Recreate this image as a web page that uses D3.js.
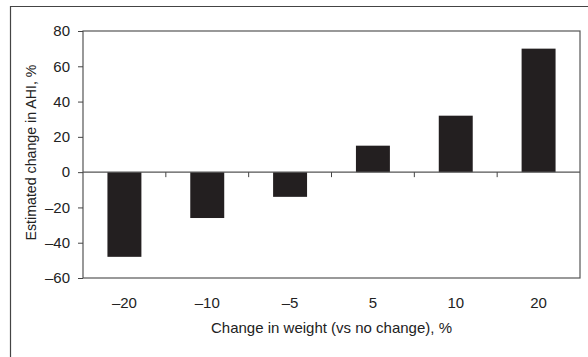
<!DOCTYPE html>
<html><head><meta charset="utf-8">
<script src="https://cdn.jsdelivr.net/npm/d3@7"></script>
<style>body{margin:0;background:#fff}svg{display:block}text{font-family:"Liberation Sans",Arial,sans-serif;fill:#222}</style>
</head><body>
<script>
const categories = ["\u201320", "\u201310", "\u20135", "5", "10", "20"];
const values = [-48, -26, -14, 15, 32, 70];
const yTicks = [-60, -40, -20, 0, 20, 40, 60, 80];
const yTickLabels = ["\u201360", "\u201340", "\u201320", "0", "20", "40", "60", "80"];
const xTitle = "Change in weight (vs no change), %";
const yTitle = "Estimated change in AHI, %";

const W = 588, H = 357;
const m = {left: 83, right: 8, top: 31, bottom: 79};
const FS = 15;
const svg = d3.select("body").append("svg").attr("width", W).attr("height", H);

// outer frame
svg.append("path").attr("d", `M10.5,${H} V6.5 H${W}`).attr("fill","none").attr("stroke","#444").attr("stroke-width",1.2);

const x = d3.scaleBand().domain(categories).range([m.left, W - m.right]).paddingInner(0.59).paddingOuter(0.295);
const y = d3.scaleLinear().domain([-60, 80]).range([H - m.bottom, m.top]);

const g = svg.append("g");
// plot box
g.append("rect").attr("x", m.left).attr("y", y(80)).attr("width", (W - m.right) - m.left).attr("height", y(-60) - y(80))
  .attr("fill","none").attr("stroke","#555").attr("stroke-width",1.2);

// bars
g.selectAll("rect.bar").data(values).join("rect").attr("class","bar")
  .attr("x", (d,i) => x(categories[i])).attr("width", x.bandwidth())
  .attr("y", d => y(Math.max(0,d))).attr("height", d => Math.abs(y(d) - y(0)))
  .attr("fill","#231f20");

// y axis
const yAxis = d3.axisLeft(y).tickValues(yTicks).tickSize(5).tickPadding(8)
  .tickFormat((d,i) => yTickLabels[i]);
const ya = g.append("g").attr("transform", `translate(${m.left},0)`).call(yAxis);
ya.select(".domain").remove();
ya.selectAll("line").attr("stroke","#444");
ya.selectAll("text").attr("font-size", FS).attr("fill","#222").attr("font-family", '"Liberation Sans",Arial,sans-serif');

// zero line with boundary ticks
g.append("line").attr("x1", m.left).attr("x2", W - m.right).attr("y1", y(0)).attr("y2", y(0)).attr("stroke","#555").attr("stroke-width",1.2);
const step = x.step();
g.selectAll("line.xt").data(categories.slice(1)).join("line").attr("class","xt")
  .attr("x1", d => x(d) - (step - x.bandwidth())/2).attr("x2", d => x(d) - (step - x.bandwidth())/2)
  .attr("y1", y(0)).attr("y2", y(0) + 5).attr("stroke","#444");

// x labels
g.selectAll("text.xl").data(categories).join("text").attr("class","xl")
  .attr("x", d => x(d) + x.bandwidth()/2).attr("y", y(-60) + 30)
  .attr("text-anchor","middle").attr("font-size", FS).text(d => d);

svg.append("text").attr("x", (m.left + W - m.right)/2).attr("y", 333)
  .attr("text-anchor","middle").attr("font-size", FS).text(xTitle);
svg.append("text").attr("transform", `translate(36,${(y(80)+y(-60))/2 - 2}) rotate(-90)`)
  .attr("text-anchor","middle").attr("font-size", 14.2).text(yTitle);
</script>
</body></html>
